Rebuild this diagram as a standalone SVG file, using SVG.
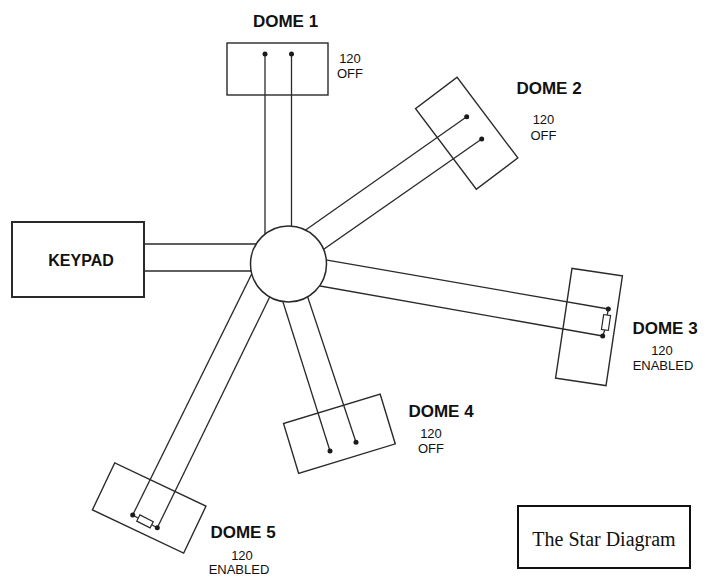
<svg xmlns="http://www.w3.org/2000/svg" width="707" height="577" viewBox="0 0 707 577">
<style>
.ln{stroke:#2a2a2a;stroke-width:1.3;fill:none}
.box{stroke:#2a2a2a;stroke-width:1.4;fill:none}
.dot{fill:#1a1a1a}
.lbl{font-family:"Liberation Sans",Arial,sans-serif;font-weight:bold;font-size:17px;fill:#111;text-anchor:middle}
.sub{font-family:"Liberation Sans",Arial,sans-serif;font-size:13px;fill:#111;text-anchor:middle}
.res{stroke:#2a2a2a;stroke-width:1.2;fill:#fff}
</style>
<rect width="707" height="577" fill="#fff"/>
<g id="connectors">
<line class="ln" x1="265" y1="54" x2="265" y2="264"/>
<line class="ln" x1="291.5" y1="54" x2="291.5" y2="264"/>
<line class="ln" x1="466.7" y1="116.7" x2="290.3" y2="240.8"/>
<line class="ln" x1="481.7" y1="139" x2="308.6" y2="259.8"/>
<line class="ln" x1="608.3" y1="309" x2="307" y2="256.6"/>
<line class="ln" x1="602.7" y1="336" x2="300.3" y2="282.5"/>
<line class="ln" x1="330" y1="451" x2="277" y2="283"/>
<line class="ln" x1="356" y1="442.3" x2="301.7" y2="279"/>
<line class="ln" x1="132.7" y1="515" x2="262" y2="253"/>
<line class="ln" x1="157.3" y1="527.7" x2="277" y2="282"/>
<line class="ln" x1="144" y1="244" x2="290" y2="244"/>
<line class="ln" x1="144" y1="271" x2="290" y2="271"/>
</g>
<g id="hub">
<circle cx="288.5" cy="264" r="38" fill="#fff" stroke="#2a2a2a" stroke-width="1.5"/>
</g>
<g id="keypad">
<rect x="12" y="222" width="132" height="75" fill="none" stroke="#2a2a2a" stroke-width="2"/>
<text class="lbl" x="81" y="266" style="font-size:16px">KEYPAD</text>
</g>
<g id="dome1">
<rect class="box" x="227" y="43" width="101" height="52"/>
<circle class="dot" cx="265" cy="54" r="2.5"/>
<circle class="dot" cx="291.5" cy="54" r="2.5"/>
<text class="lbl" x="285.5" y="27">DOME 1</text>
<text class="sub" x="350" y="62.5">120</text>
<text class="sub" x="350" y="78">OFF</text>
</g>
<g id="dome2">
<rect class="box" x="-50.5" y="-26" width="101" height="52" transform="translate(466.7 133.3) rotate(53)"/>
<circle class="dot" cx="466.7" cy="116.7" r="2.5"/>
<circle class="dot" cx="481.7" cy="139" r="2.5"/>
<text class="lbl" x="549" y="94">DOME 2</text>
<text class="sub" x="543.5" y="123.5">120</text>
<text class="sub" x="543.5" y="140">OFF</text>
</g>
<g id="dome3">
<rect class="box" x="-25.5" y="-55.5" width="51" height="111" transform="translate(589 327) rotate(8.5)"/>
<line class="ln" x1="608.3" y1="309" x2="607.2" y2="315.5"/>
<line class="ln" x1="604.9" y1="329.5" x2="602.7" y2="336"/>
<rect class="res" x="-3.5" y="-7.5" width="7" height="15" transform="translate(606 322.5) rotate(8.5)"/>
<circle class="dot" cx="608.3" cy="309" r="2.5"/>
<circle class="dot" cx="602.7" cy="336" r="2.5"/>
<text class="lbl" x="665" y="334">DOME 3</text>
<text class="sub" x="662" y="355">120</text>
<text class="sub" x="663" y="370">ENABLED</text>
</g>
<g id="dome4">
<rect class="box" x="-50.5" y="-26" width="101" height="52" transform="translate(339.4 433.7) rotate(-16.9)"/>
<circle class="dot" cx="330" cy="451" r="2.5"/>
<circle class="dot" cx="356" cy="442.3" r="2.5"/>
<text class="lbl" x="441" y="416.7">DOME 4</text>
<text class="sub" x="431" y="437.7">120</text>
<text class="sub" x="431" y="453.3">OFF</text>
</g>
<g id="dome5">
<rect class="box" x="-50.5" y="-26" width="101" height="52" transform="translate(149.2 508) rotate(25.4)"/>
<line class="ln" x1="132.7" y1="515" x2="138.3" y2="518.3"/>
<line class="ln" x1="151.7" y1="524.7" x2="157.3" y2="527.7"/>
<rect class="res" x="-7.5" y="-3.5" width="15" height="7" transform="translate(145 521.4) rotate(27)"/>
<circle class="dot" cx="132.7" cy="515" r="2.5"/>
<circle class="dot" cx="157.3" cy="527.7" r="2.5"/>
<text class="lbl" x="243" y="538">DOME 5</text>
<text class="sub" x="242" y="560">120</text>
<text class="sub" x="239" y="574">ENABLED</text>
</g>
<g id="title">
<rect x="518" y="506" width="172" height="62" fill="none" stroke="#111" stroke-width="2"/>
<text x="604" y="546" style="font-family:'Liberation Serif','Times New Roman',serif;font-size:20px;fill:#111;text-anchor:middle">The Star Diagram</text>
</g>
</svg>
